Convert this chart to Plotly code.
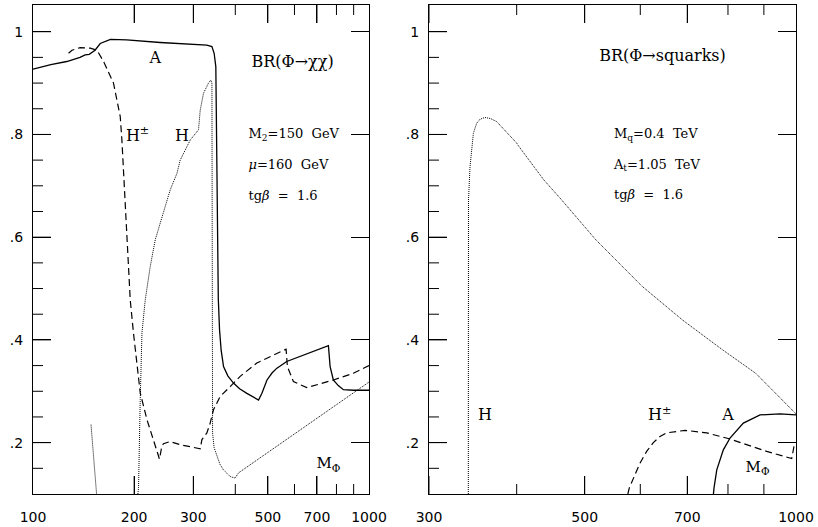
import numpy as np
import plotly.graph_objects as go

# ---------------- Left panel: BR(Phi -> chi chi) ----------------
A_chi_x = [100, 113, 126, 138, 143, 147, 153, 158.5, 170, 190, 239, 329, 340.7, 346, 350, 351.5,
           353, 356, 359, 363, 369, 380, 395, 412, 433, 450, 469, 480, 497, 515, 532, 569, 640,
           700, 757, 766, 783, 810, 839, 900, 1000]
A_chi_y = [0.927, 0.936, 0.942, 0.950, 0.955, 0.956, 0.964, 0.977, 0.985, 0.984, 0.979, 0.974,
           0.971, 0.958, 0.932, 0.80, 0.60, 0.48, 0.42, 0.38, 0.348, 0.33, 0.316, 0.305, 0.296,
           0.290, 0.283, 0.296, 0.322, 0.336, 0.345, 0.358, 0.371, 0.381, 0.389, 0.348, 0.322,
           0.311, 0.303, 0.302, 0.302]

Hpm_chi_x = [127.6, 130.6, 138.2, 148.1, 155, 162.2, 173.6, 177.7, 181.8, 183.9, 185.2, 188.1,
             192.5, 194.7, 199.1, 203.8, 208.5, 218.3, 231.1, 237.9, 241.8, 244.5, 256, 274.2,
             314.5, 318.2, 329.2, 336.7, 344.4, 360.6, 386.2, 413.5, 463.6, 566.5, 571.6, 595.6,
             652.8, 783.1, 898.1, 1000]
Hpm_chi_y = [0.958, 0.964, 0.969, 0.968, 0.964, 0.942, 0.900, 0.867, 0.835, 0.789, 0.75, 0.66,
             0.53, 0.478, 0.413, 0.348, 0.297, 0.245, 0.193, 0.168, 0.193, 0.198, 0.202, 0.196,
             0.188, 0.206, 0.219, 0.238, 0.264, 0.29, 0.309, 0.329, 0.355, 0.382, 0.348, 0.319,
             0.307, 0.322, 0.335, 0.35]

H_chi_x = [148.8, 154.6, None,
           205.2, 206.1, 208.5, 211, 215.8, 223.3, 231.1, 241.8, 256, 268.1, 274.2, 293.6, 310.8,
           314.5, 321.6, 332.8, 338.3, 340.8, 341.5, 342.3, 346, 352.5, 360, 368.8, 386.2, 399.6,
           408.7, 1000]
H_chi_y = [0.235, 0.10, None,
           0.10, 0.112, 0.284, 0.414, 0.478, 0.543, 0.595, 0.64, 0.692, 0.724, 0.75, 0.789, 0.809,
           0.847, 0.880, 0.900, 0.906, 0.900, 0.60, 0.219, 0.19, 0.173, 0.158, 0.147, 0.134, 0.131,
           0.141, 0.318]

# ---------------- Right panel: BR(Phi -> squarks) ----------------
H_sq_x = [341.3, 341.5, 343.2, 345.1, 347, 350.8, 355, 360.5, 367, 374.6, 387, 400.1, 402.2,
          437.5, 461.2, 518.5, 604, 688.7, 785.3, 876.3, 1000]
H_sq_y = [0.10, 0.672, 0.737, 0.77, 0.802, 0.822, 0.830, 0.833, 0.831, 0.825, 0.805, 0.783, 0.778,
          0.711, 0.676, 0.595, 0.504, 0.439, 0.381, 0.335, 0.256]

Hpm_sq_x = [576, 578.8, 599.4, 612.7, 626.2, 640.1, 654.3, 694.9, 746.2, 805.4, 908.5, 986, 993.5, 1000]
Hpm_sq_y = [0.10, 0.112, 0.16, 0.183, 0.2, 0.212, 0.219, 0.224, 0.219, 0.207, 0.183, 0.169, 0.193, 0.2]

A_sq_x = [762.7, 764.2, 771.1, 787.9, 805.4, 841.4, 888.8, 948.9, 1000]
A_sq_y = [0.10, 0.112, 0.147, 0.186, 0.209, 0.238, 0.254, 0.256, 0.254]

# ---------------- ticks ----------------
y_tick_vals = [0.2, 0.4, 0.6, 0.8, 1.0]
y_tick_text = [".2", ".4", ".6", ".8", "1"]
y_minor_vals = [0.15, 0.25, 0.3, 0.35, 0.45, 0.5, 0.55, 0.65, 0.7, 0.75, 0.85, 0.9, 0.95]
x1_tick_vals = [100, 200, 300, 500, 700, 1000]
x1_tick_text = ["100", "200", "300", "500", "700", "1000"]
x2_tick_vals = [300, 500, 700, 1000]
x2_tick_text = ["300", "500", "700", "1000"]
x_minor_vals = [400, 600, 800, 900]

# ---------------- labels ----------------
left_big_text = ["BR(Φ→χχ)", "A", "H<sup>±</sup>", "H"]
left_big_x = [592.3, 231.1, 204.7, 277.4]
left_big_y = [0.939, 0.946, 0.796, 0.796]
left_par_text = ["M<sub>2</sub>=150  GeV", "<i>μ</i>=160  GeV", "tg<i>β</i>  =  1.6"]
left_par_x = [437.7, 437.7, 437.7]
left_par_y = [0.799, 0.739, 0.679]
right_big_text = ["BR(Φ→squarks)", "H", "H<sup>±</sup>", "A"]
right_big_x = [645.3, 360.5, 639.5, 800]
right_big_y = [0.951, 0.251, 0.251, 0.251]
right_par_text = ["M<sub>q</sub>=0.4  TeV", "A<sub>t</sub>=1.05  TeV", "tg<i>β</i>  =  1.6"]
right_par_x = [550.3, 550.3, 550.3]
right_par_y = [0.799, 0.740, 0.680]
mphi_text = "M<sub>Φ</sub>"
mphi_left = (756.8, 0.157)
mphi_right = (881.5, 0.151)

solid = dict(color="black", width=1.3)
dashed = dict(color="black", width=1.2, dash="7px,4px")
dotted = dict(color="black", width=1.0, dash="1px,1px")

fig = go.Figure()
fig.add_trace(go.Scatter(x=A_chi_x, y=A_chi_y, mode="lines", line=solid, xaxis="x", yaxis="y"))
fig.add_trace(go.Scatter(x=Hpm_chi_x, y=Hpm_chi_y, mode="lines", line=dashed, xaxis="x", yaxis="y"))
fig.add_trace(go.Scatter(x=H_chi_x, y=H_chi_y, mode="lines", line=dotted, xaxis="x", yaxis="y"))
fig.add_trace(go.Scatter(x=H_sq_x, y=H_sq_y, mode="lines", line=dotted, xaxis="x2", yaxis="y2"))
fig.add_trace(go.Scatter(x=Hpm_sq_x, y=Hpm_sq_y, mode="lines", line=dashed, xaxis="x2", yaxis="y2"))
fig.add_trace(go.Scatter(x=A_sq_x, y=A_sq_y, mode="lines", line=solid, xaxis="x2", yaxis="y2"))

serif = "DejaVu Serif"
def text_trace(xs, ys, texts, size, pos, xa, ya):
    fig.add_trace(go.Scatter(x=xs, y=ys, text=texts, mode="text", textposition=pos,
                             textfont=dict(family=serif, size=size, color="black"),
                             cliponaxis=False, hoverinfo="skip", xaxis=xa, yaxis=ya))

text_trace(left_big_x, left_big_y, left_big_text, 16, "middle center", "x", "y")
text_trace(left_par_x, left_par_y, left_par_text, 13, "middle right", "x", "y")
text_trace([mphi_left[0]], [mphi_left[1]], [mphi_text], 15, "middle center", "x", "y")
text_trace(right_big_x, right_big_y, right_big_text, 16, "middle center", "x2", "y2")
text_trace(right_par_x, right_par_y, right_par_text, 13, "middle right", "x2", "y2")
text_trace([mphi_right[0]], [mphi_right[1]], [mphi_text], 15, "middle center", "x2", "y2")

Y_RANGE = [0.1, 1.052]
X1_RANGE = [100, 1000]
X2_RANGE = [300, 1000]

base = dict(ticks="inside", ticklen=18, tickwidth=1, tickcolor="black", showline=True,
            linecolor="black", mirror="allticks", showgrid=False, zeroline=False)

fig.update_layout(
    width=818, height=527,
    template="none",
    font=dict(family="DejaVu Sans", size=14, color="black"),
    margin=dict(l=33, r=22, t=5, b=33),
    showlegend=False,
    xaxis=dict(domain=[0, 0.4404], type="log", range=list(np.log10(X1_RANGE)), tickmode="array",
               tickvals=x1_tick_vals, ticktext=x1_tick_text, anchor="y", ticklabelstandoff=10,
               **base),
    xaxis2=dict(domain=[0.519, 1], type="log", range=list(np.log10(X2_RANGE)), tickmode="array",
                tickvals=x2_tick_vals, ticktext=x2_tick_text, anchor="y2", ticklabelstandoff=10,
                **base),
    yaxis=dict(range=Y_RANGE, tickmode="array", tickvals=y_tick_vals, ticktext=y_tick_text,
               anchor="x", ticklabelstandoff=6, **base),
    yaxis2=dict(range=Y_RANGE, tickmode="array", tickvals=y_tick_vals, ticktext=y_tick_text,
                anchor="x2", ticklabelstandoff=6, **base),
)

# tick marks (inside, on all four sides) anchored to the axes, sized in pixels
tk = dict(color="black", width=1)
def xticks(xref, yref, vals, length):
    for v in vals:
        fig.add_shape(type="line", xref=xref, yref=yref, x0=v, x1=v, ysizemode="pixel",
                      yanchor=Y_RANGE[0], y0=0, y1=length, line=tk)
        fig.add_shape(type="line", xref=xref, yref=yref, x0=v, x1=v, ysizemode="pixel",
                      yanchor=Y_RANGE[1], y0=0, y1=-length, line=tk)

def yticks(xref, yref, xr, vals, length):
    for v in vals:
        fig.add_shape(type="line", xref=xref, yref=yref, y0=v, y1=v, xsizemode="pixel",
                      xanchor=xr[0], x0=0, x1=length, line=tk)
        fig.add_shape(type="line", xref=xref, yref=yref, y0=v, y1=v, xsizemode="pixel",
                      xanchor=xr[1], x0=0, x1=-length, line=tk)

xticks("x", "y", x1_tick_vals[1:-1], 18)
xticks("x", "y", x_minor_vals, 10)
xticks("x2", "y2", x2_tick_vals[:-1], 18)
xticks("x2", "y2", x_minor_vals, 10)
yticks("x", "y", X1_RANGE, y_tick_vals, 18)
yticks("x", "y", X1_RANGE, y_minor_vals, 10)
yticks("x2", "y2", X2_RANGE, y_tick_vals, 18)
yticks("x2", "y2", X2_RANGE, y_minor_vals, 10)

fig.write_html("out.html", post_script="document.body.style.margin='0';",
               config={"displayModeBar": False})
